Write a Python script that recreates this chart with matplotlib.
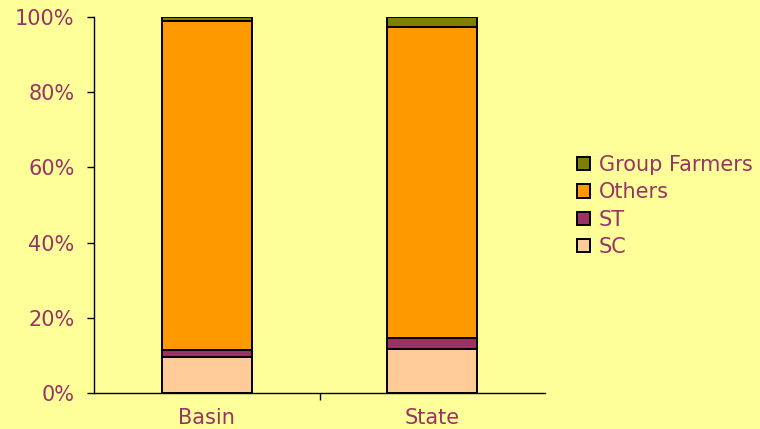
import matplotlib

matplotlib.use("Agg")

import matplotlib.pyplot as plt
import numpy as np
from matplotlib.patches import Patch
from matplotlib.ticker import FixedLocator, PercentFormatter

# share of farmers by category (%)
regions = ["Basin", "State"]
sc = [9.6, 11.8]
st = [1.8, 2.8]
others = [87.6, 82.7]
group_farmers = [1.0, 2.7]

BG = "#ffff99"
TEXT = "#993366"
series = [
    ("SC", sc, "#ffcc99"),
    ("ST", st, "#993366"),
    ("Others", others, "#ff9900"),
    ("Group Farmers", group_farmers, "#808000"),
]

fig = plt.figure(figsize=(7.6, 4.29), dpi=100, facecolor=BG)
ax = fig.add_axes([94 / 760, 1 - 393 / 429, 451 / 760, 376 / 429], facecolor=BG)

x = np.arange(len(regions))
bottom = np.zeros(len(regions))
for name, vals, color in series:
    ax.bar(x, vals, bottom=bottom, width=0.4, color=color, edgecolor="black",
           linewidth=1.4, zorder=2)
    bottom += np.array(vals)

ax.set_xlim(-0.5, len(regions) - 0.5)
ax.set_ylim(0, 100)
ax.set_yticks(np.arange(0, 101, 20))
ax.yaxis.set_major_formatter(PercentFormatter(decimals=0))
ax.set_xticks(x)
ax.set_xticklabels(regions)
ax.xaxis.set_minor_locator(FixedLocator([0.5]))
ax.tick_params(axis="x", which="major", length=0, pad=11, labelsize=15, labelcolor=TEXT)
ax.tick_params(axis="x", which="minor", length=5, width=1, direction="out")
ax.tick_params(axis="y", length=5, width=1, direction="out", pad=9,
               labelsize=15, labelcolor=TEXT)
for side in ("top", "right"):
    ax.spines[side].set_visible(False)
for side in ("left", "bottom"):
    ax.spines[side].set_linewidth(1)

handles = [Patch(facecolor=c, edgecolor="black", linewidth=1.4, label=n)
           for n, _, c in reversed(series)]
fig.legend(handles=handles, loc="center left", bbox_to_anchor=(577 / 760, 1 - 206 / 429),
           frameon=False, fontsize=15, labelcolor=TEXT, handlelength=0.6,
           handleheight=0.6, handletextpad=0.45, labelspacing=0.35, borderpad=0,
           borderaxespad=0)

fig.savefig("out.png", dpi=100, facecolor=BG)
